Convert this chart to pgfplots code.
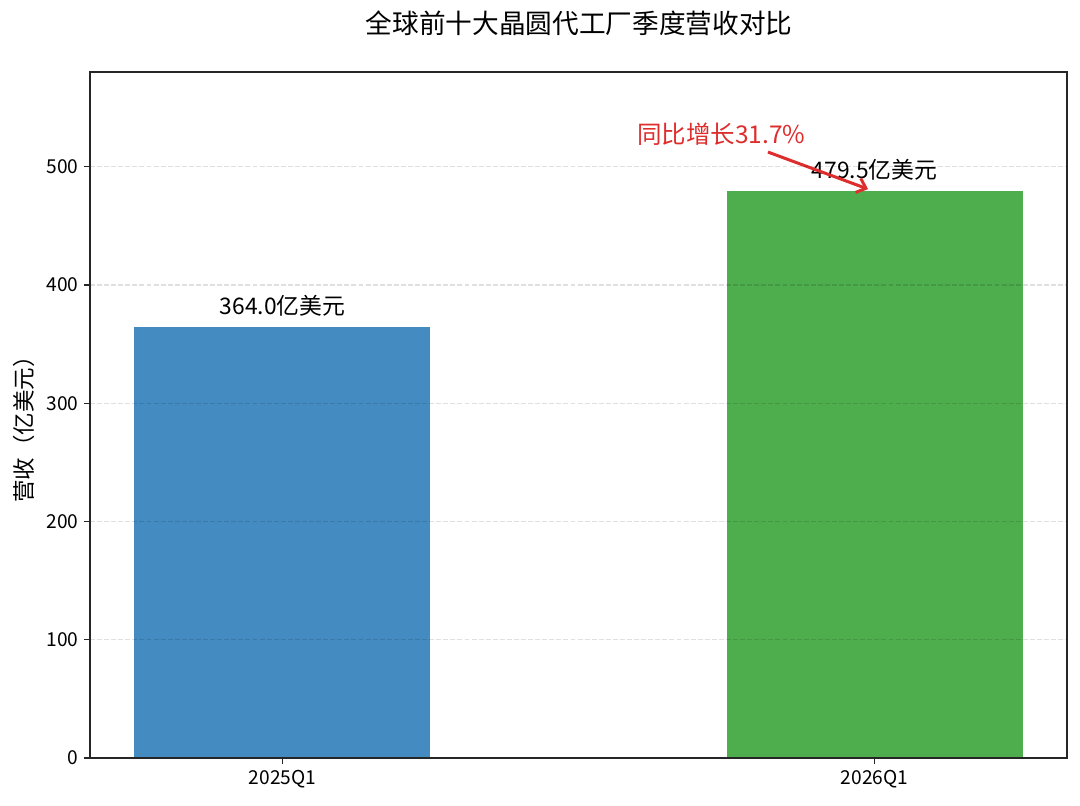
\documentclass[border=0pt]{standalone}
\usepackage{pgfplots}
\pgfplotsset{compat=1.18}
\usepackage{fontspec}
\setmainfont{Noto Sans CJK SC}
\usetikzlibrary{arrows.meta}
\definecolor{barblue}{RGB}{67,139,192}
\definecolor{bargreen}{RGB}{78,174,78}
\definecolor{annred}{RGB}{222,45,45}
\begin{document}
\begin{tikzpicture}
\path[use as bounding box] (0,0) rectangle (648pt,483.6pt);
\begin{axis}[
  at={(54pt,28.8pt)}, anchor=south west,
  scale only axis, width=586.2pt, height=411.6pt,
  xmin=-0.325, xmax=1.325, ymin=0, ymax=580,
  xtick={0,1}, xticklabels={2025Q1,2026Q1},
  ytick={0,100,200,300,400,500},
  xtick pos=lower, ytick pos=left,
  tick align=outside, major tick length=3.5pt,
  tick style={black!85, line width=0.8pt},
  axis line style={black!85, line width=0.8pt},
  /pgf/number format/assume math mode=true,
  ticklabel style={font=\fontsize{11.5}{13}\selectfont},
  ymajorgrids, major grid style={draw=black, draw opacity=0.12, line width=0.8pt, dash pattern=on 2.96pt off 1.28pt},
  axis on top,
  ybar, bar width=0.5, bar shift=0pt,
]
\addplot[draw=none, fill=barblue] coordinates {(0,364.0)};
\addplot[draw=none, fill=bargreen] coordinates {(1,479.5)};
\node[anchor=base, yshift=8pt, font=\fontsize{13.7}{16}\selectfont] at (axis cs:0,364.0) {364.0亿美元};
\node[anchor=base, yshift=7.7pt, font=\fontsize{13.7}{16}\selectfont] at (axis cs:1,479.5) {479.5亿美元};
\draw[annred, line width=1.8pt, -{Straight Barb[length=5pt,width=9pt]}] (axis cs:0.82,512.3) -- (axis cs:0.989,481);
\node[anchor=base, text=annred, font=\fontsize{14.7}{17}\selectfont] at (axis cs:0.741,519.7) {同比增长31.7\%};
\end{axis}
\node[font=\fontsize{16}{19}\selectfont] at (347.4pt,469.8pt) {全球前十大晶圆代工厂季度营收对比};
\node[rotate=90, font=\fontsize{13.5}{15}\selectfont] at (14.4pt,229.2pt) {营收（亿美元）};
\end{tikzpicture}
\end{document}
